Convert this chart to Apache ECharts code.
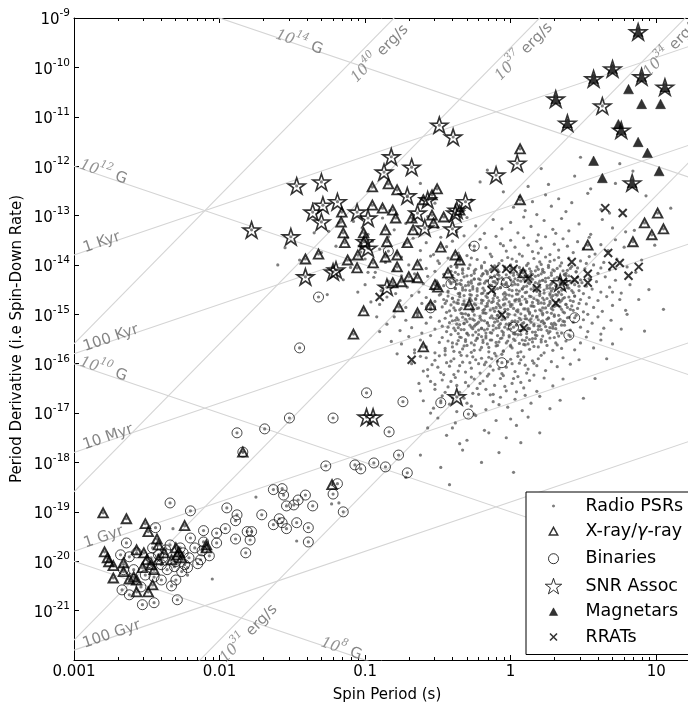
<!DOCTYPE html>
<html>
<head>
<meta charset="utf-8">
<title>P-Pdot diagram</title>
<script src="https://cdn.jsdelivr.net/npm/echarts@6.0.0/dist/echarts.min.js"></script>
<style>
html, body { margin: 0; padding: 0; background: #fff; }
#chart { width: 688px; height: 705px; }
</style>
</head>
<body>
<div id="chart"></div>
<script>
// tick labels
var xTickLabels = ['0.001', '0.01', '0.1', '1', '10'];
var minorMantissa = [2, 3, 4, 5, 6, 7, 8, 9];
var minorDecades = [0.001, 0.01, 0.1, 1, 10];

// all point lists below are [log10 P (s), log10 Pdot]
var radioCloud = [
  [-0.62,-12.35],[-0.21,-12.32],[-0.16,-12.08],[0.12,-12.41],[0.21,-12.05],[0.26,-12.37],[0.48,-11.82],[0.55,-12.46],[0.75,-11.95],[0.44,-12.2],
  [-0.83,-12.9],[-0.71,-12.62],[-0.52,-12.75],[-0.35,-12.95],[-0.27,-12.68],[-0.05,-12.52],[0.02,-12.83],[0.06,-12.62],[0.1,-12.9],[0.15,-12.72],[0.18,-12.98],[0.24,-12.58],[0.28,-12.81],[0.33,-12.66],[0.38,-12.92],[0.42,-12.74],[0.53,-12.55],[0.62,-12.88],
  [-1.25,-13.32],[-1.08,-13.12],[-0.98,-13.38],[-0.88,-13.05],[-0.8,-13.29],[-0.72,-13.16],[-0.64,-13.37],[-0.57,-13.02],[-0.5,-13.24],[-0.42,-13.11],[-0.37,-13.33],[-0.3,-13.04],[-0.24,-13.21],[-0.18,-13.36],[-0.12,-13.08],[-0.06,-13.27],[0.0,-13.14],[0.05,-13.35],[0.09,-13.03],[0.14,-13.22],[0.19,-13.39],[0.23,-13.1],[0.29,-13.28],[0.35,-13.06],[0.4,-13.31],[0.47,-13.17],[0.55,-13.38],[0.63,-13.08],[0.7,-13.25],[0.31,-13.36],
  [-1.2,-13.62],[-1.12,-13.45],[-1.03,-13.74],[-0.95,-13.52],[-0.9,-13.68],[-0.84,-13.43],[-0.78,-13.77],[-0.73,-13.58],[-0.67,-13.46],[-0.62,-13.71],[-0.58,-13.55],[-0.53,-13.79],[-0.48,-13.44],[-0.44,-13.63],[-0.4,-13.52],[-0.36,-13.76],[-0.32,-13.41],[-0.28,-13.6],[-0.25,-13.7],[-0.21,-13.48],[-0.17,-13.65],[-0.14,-13.78],[-0.1,-13.42],[-0.07,-13.57],[-0.03,-13.72],[0.0,-13.5],[0.03,-13.64],[0.06,-13.78],[0.09,-13.45],[0.12,-13.6],[0.15,-13.73],[0.18,-13.52],[0.21,-13.66],[0.24,-13.43],[0.27,-13.79],[0.3,-13.58],[0.33,-13.7],[0.36,-13.47],[0.39,-13.62],[0.43,-13.75],[0.46,-13.53],[0.5,-13.67],[0.54,-13.44],[0.58,-13.78],[0.62,-13.59],[0.67,-13.71],[0.72,-13.49],[0.78,-13.64],[-0.05,-13.61],[0.19,-13.76],
  [-1.1,-14.05],[-1.0,-13.88],[-0.93,-14.15],[-0.86,-13.95],[-0.8,-14.1],[-0.75,-13.84],[-0.7,-14.0],[-0.66,-14.18],[-0.62,-13.9],[-0.58,-14.07],[-0.55,-13.82],[-0.52,-14.13],[-0.49,-13.97],[-0.46,-14.19],[-0.43,-13.86],[-0.41,-14.03],[-0.38,-14.15],[-0.35,-13.92],[-0.33,-14.08],[-0.3,-13.81],[-0.28,-14.0],[-0.25,-14.17],[-0.23,-13.89],[-0.2,-14.06],[-0.18,-13.95],[-0.16,-14.14],[-0.13,-13.83],[-0.11,-14.02],[-0.09,-14.19],[-0.06,-13.91],[-0.04,-14.09],[-0.02,-13.85],[0.0,-14.0],[0.02,-14.16],[0.04,-13.93],[0.06,-14.05],[0.08,-13.82],[0.1,-14.12],[0.12,-13.97],[0.14,-14.18],[0.16,-13.87],[0.18,-14.04],[0.2,-13.94],[0.22,-14.13],[0.24,-13.84],[0.26,-14.01],[0.28,-14.16],[0.3,-13.9],[0.32,-14.07],[0.35,-13.96],[0.37,-14.19],[0.4,-13.86],[0.42,-14.03],[0.45,-14.14],[0.48,-13.92],[0.51,-14.08],[0.54,-13.83],[0.57,-14.0],[0.6,-14.17],[0.64,-13.95],[0.68,-14.1],[0.73,-13.88],[0.8,-14.04],[-0.27,-13.86],[-0.14,-14.1],[0.01,-13.88],[0.13,-14.08],[0.27,-13.93],[0.39,-14.11],[-0.37,-14.05],[-0.08,-13.97],[0.07,-14.15],[0.21,-13.99],[0.33,-13.85],[0.46,-14.06],[-0.5,-13.92],[-0.19,-14.18],[0.17,-14.12],[0.52,-13.97],[0.62,-14.06],
  [-1.0,-14.4],[-0.94,-14.25],[-0.89,-14.52],[-0.84,-14.33],[-0.79,-14.58],[-0.75,-14.22],[-0.71,-14.45],[-0.67,-14.3],[-0.63,-14.55],[-0.6,-14.38],[-0.57,-14.23],[-0.54,-14.49],[-0.51,-14.32],[-0.48,-14.59],
  [-0.46,-14.42],[-0.44,-14.27],[-0.43,-14.55],[-0.41,-14.36],[-0.4,-14.21],[-0.38,-14.48],[-0.37,-14.31],[-0.35,-14.57],[-0.34,-14.4],[-0.32,-14.24],[-0.31,-14.51],[-0.29,-14.35],[-0.28,-14.6],[-0.26,-14.44],[-0.25,-14.28],[-0.23,-14.53],[-0.22,-14.39],[-0.2,-14.22],[-0.19,-14.47],[-0.17,-14.33],[-0.16,-14.58],[-0.14,-14.41],[-0.13,-14.26],[-0.11,-14.5],[-0.1,-14.37],[-0.08,-14.21],[-0.07,-14.46],[-0.05,-14.3],[-0.04,-14.56],[-0.02,-14.43],[-0.01,-14.25],[0.01,-14.52],[0.02,-14.34],[0.04,-14.59],[0.05,-14.4],[0.07,-14.23],[0.08,-14.48],[0.1,-14.32],[0.11,-14.55],[0.13,-14.38],[0.14,-14.27],[0.16,-14.5],[0.17,-14.36],[0.19,-14.21],[0.2,-14.45],[0.22,-14.31],[0.23,-14.57],[0.25,-14.42],[0.26,-14.26],[0.28,-14.53],[0.29,-14.35],[0.31,-14.6],[0.32,-14.44],[0.34,-14.29],[0.35,-14.51],[0.37,-14.37],[0.38,-14.22],[0.4,-14.47],[0.41,-14.33],[0.43,-14.56],[0.44,-14.4],[0.46,-14.25],[0.47,-14.52],[0.49,-14.36],[0.5,-14.58],[0.52,-14.43],[0.54,-14.28],[0.56,-14.49],
  [0.59,-14.34],[0.62,-14.55],[0.65,-14.24],[0.68,-14.45],[0.72,-14.31],[0.76,-14.57],[0.82,-14.4],
  [-0.39,-14.34],[-0.21,-14.3],[-0.06,-14.39],[0.09,-14.44],[0.24,-14.34],[0.39,-14.41],[-0.33,-14.46],[-0.12,-14.54],[0.03,-14.28],[0.18,-14.53],[0.33,-14.55],[0.48,-14.3],[-0.27,-14.37],[0.12,-14.22],[-0.09,-14.29],[0.27,-14.47],
  [-0.9,-14.8],[-0.85,-14.65],[-0.8,-14.93],[-0.76,-14.72],[-0.72,-14.86],[-0.68,-14.62],[-0.64,-14.97],[-0.61,-14.78],[-0.58,-14.66],[-0.55,-14.9],[-0.52,-14.74],[-0.49,-14.61],
  [-0.47,-14.85],[-0.46,-14.7],[-0.44,-14.96],[-0.43,-14.63],[-0.41,-14.81],[-0.4,-14.68],[-0.38,-14.92],[-0.37,-14.77],[-0.35,-14.64],[-0.34,-14.88],[-0.32,-14.73],[-0.31,-14.99],[-0.29,-14.82],[-0.28,-14.67],[-0.26,-14.94],[-0.25,-14.79],[-0.23,-14.62],[-0.22,-14.87],[-0.2,-14.71],[-0.19,-14.97],[-0.17,-14.84],[-0.16,-14.66],[-0.14,-14.91],[-0.13,-14.76],[-0.11,-14.61],[-0.1,-14.86],[-0.08,-14.72],[-0.07,-14.98],[-0.05,-14.81],[-0.04,-14.65],[-0.02,-14.9],[-0.01,-14.75],[0.01,-14.63],[0.02,-14.88],[0.04,-14.7],[0.05,-14.95],[0.07,-14.8],[0.08,-14.64],[0.1,-14.89],[0.11,-14.74],[0.13,-14.99],[0.14,-14.83],[0.16,-14.68],[0.17,-14.93],[0.19,-14.78],[0.2,-14.62],[0.22,-14.87],[0.23,-14.71],[0.25,-14.96],[0.26,-14.82],[0.28,-14.66],[0.29,-14.91],[0.31,-14.76],[0.32,-14.61],[0.34,-14.85],[0.35,-14.72],[0.37,-14.97],[0.38,-14.8],[0.4,-14.65],[0.41,-14.9],[0.43,-14.74],[0.44,-14.63],[0.46,-14.88],[0.48,-14.7],[0.5,-14.95],[0.52,-14.79],[0.54,-14.66],
  [0.57,-14.86],[0.6,-14.72],[0.63,-14.94],[0.66,-14.64],[0.7,-14.82],[0.75,-14.7],[0.79,-14.92],
  [-0.39,-14.75],[-0.24,-14.7],[-0.09,-14.78],[0.06,-14.73],[0.21,-14.77],[0.36,-14.68],[-0.33,-14.8],[-0.18,-14.9],[-0.03,-14.69],[0.12,-14.93],[0.27,-14.74],[0.42,-14.83],[-0.45,-14.78],[0.0,-14.84],[0.15,-14.76],[0.3,-14.84],[-0.15,-14.73],[0.47,-14.78],
  [-0.85,-15.2],[-0.8,-15.05],[-0.76,-15.33],[-0.72,-15.12],[-0.68,-15.27],[-0.64,-15.02],[-0.61,-15.38],[-0.58,-15.18],[-0.55,-15.06],[-0.52,-15.3],[-0.49,-15.14],
  [-0.47,-15.24],[-0.45,-15.08],[-0.44,-15.35],[-0.42,-15.17],[-0.41,-15.03],[-0.39,-15.28],[-0.38,-15.12],[-0.36,-15.39],[-0.35,-15.21],[-0.33,-15.06],[-0.32,-15.31],[-0.3,-15.15],[-0.29,-15.01],[-0.27,-15.26],[-0.26,-15.1],[-0.24,-15.36],[-0.23,-15.19],[-0.21,-15.04],[-0.2,-15.29],[-0.18,-15.13],[-0.17,-15.38],[-0.15,-15.23],[-0.14,-15.07],[-0.12,-15.32],[-0.11,-15.16],[-0.09,-15.02],[-0.08,-15.27],[-0.06,-15.11],[-0.05,-15.37],[-0.03,-15.2],[-0.02,-15.05],[0.0,-15.3],[0.01,-15.14],[0.03,-15.39],[0.04,-15.22],[0.06,-15.08],[0.07,-15.33],[0.09,-15.17],[0.1,-15.03],[0.12,-15.28],[0.13,-15.12],[0.15,-15.36],[0.16,-15.2],[0.18,-15.06],[0.19,-15.31],[0.21,-15.15],[0.22,-15.01],[0.24,-15.25],[0.25,-15.1],[0.27,-15.35],[0.28,-15.19],[0.3,-15.04],[0.31,-15.29],[0.33,-15.13],[0.35,-15.38],[0.37,-15.22],[0.39,-15.07],[0.41,-15.32],[0.43,-15.16],[0.45,-15.02],[0.48,-15.26],[0.5,-15.11],
  [0.53,-15.35],[0.56,-15.18],[0.6,-15.05],[0.64,-15.28],[0.69,-15.12],
  [-0.37,-15.2],[-0.22,-15.16],[-0.07,-15.19],[0.08,-15.25],[0.23,-15.18],[-0.31,-15.1],[-0.16,-15.3],[-0.01,-15.22],[0.14,-15.09],[0.29,-15.23],[-0.43,-15.26],[-0.1,-15.09],[0.05,-15.15],[0.2,-15.24],[0.36,-15.14],[-0.25,-15.24],
  [-0.75,-15.6],[-0.7,-15.45],[-0.66,-15.72],[-0.62,-15.52],[-0.58,-15.66],[-0.55,-15.43],[-0.52,-15.78],[-0.49,-15.57],
  [-0.47,-15.47],[-0.45,-15.69],[-0.43,-15.54],[-0.41,-15.41],[-0.39,-15.75],[-0.37,-15.6],[-0.35,-15.46],[-0.33,-15.7],[-0.31,-15.55],[-0.29,-15.42],[-0.27,-15.77],[-0.25,-15.62],[-0.23,-15.48],[-0.21,-15.72],[-0.19,-15.57],[-0.17,-15.44],[-0.15,-15.67],[-0.13,-15.52],[-0.11,-15.79],[-0.09,-15.63],[-0.07,-15.49],[-0.05,-15.74],[-0.03,-15.58],[-0.01,-15.43],[0.01,-15.68],[0.03,-15.53],[0.05,-15.41],[0.07,-15.76],[0.09,-15.61],[0.11,-15.47],[0.13,-15.71],[0.15,-15.56],[0.17,-15.42],[0.19,-15.66],[0.21,-15.51],[0.23,-15.78],[0.25,-15.63],[0.27,-15.48],[0.29,-15.73],[0.31,-15.58],[0.33,-15.44],[0.35,-15.69],[0.38,-15.54],[0.41,-15.45],[0.44,-15.72],
  [0.48,-15.58],[0.52,-15.46],[0.57,-15.68],[0.62,-15.52],
  [-0.4,-15.58],[-0.24,-15.53],[-0.08,-15.56],[0.08,-15.52],[0.24,-15.55],[-0.32,-15.64],[-0.16,-15.6],[0.0,-15.63],[0.16,-15.65],[0.32,-15.62],[-0.2,-15.45],[0.12,-15.6],
  [-0.68,-16.0],[-0.62,-15.85],[-0.57,-16.12],[-0.52,-15.93],[-0.48,-16.18],[-0.45,-15.82],[-0.42,-16.05],[-0.39,-15.9],[-0.36,-16.15],[-0.33,-15.97],[-0.3,-15.84],[-0.27,-16.09],[-0.24,-15.92],[-0.21,-16.19],[-0.18,-16.02],[-0.15,-15.87],[-0.12,-16.13],[-0.09,-15.95],[-0.06,-15.81],[-0.03,-16.07],[0.0,-15.91],[0.03,-16.16],[0.06,-15.99],[0.09,-15.86],[0.12,-16.11],[0.15,-15.94],[0.18,-16.04],[0.21,-15.83],[0.24,-16.14],[0.28,-15.96],[0.32,-16.06],[0.36,-15.88],[0.41,-16.01],[0.47,-15.92],
  [-0.44,-15.98],[-0.35,-16.04],[-0.26,-15.86],[-0.17,-15.97],[-0.08,-16.1],[0.01,-16.0],[0.1,-16.03],[0.19,-15.9],[-0.5,-16.07],[-0.13,-15.9],[0.05,-15.85],[-0.22,-16.0],
  [-0.63,-16.4],[-0.57,-16.25],[-0.52,-16.52],[-0.47,-16.33],[-0.43,-16.47],[-0.39,-16.22],[-0.35,-16.58],[-0.31,-16.38],[-0.27,-16.27],[-0.23,-16.5],[-0.19,-16.35],[-0.15,-16.21],[-0.11,-16.44],[-0.07,-16.3],[-0.03,-16.55],[0.01,-16.4],[0.05,-16.26],[0.09,-16.49],[0.13,-16.34],[0.18,-16.56],[0.23,-16.29],[0.29,-16.45],[0.36,-16.31],[-0.41,-16.36],[-0.29,-16.45],[-0.17,-16.52],[-0.05,-16.24],[0.07,-16.38],[-0.55,-16.36],[0.16,-16.23],
  [-0.6,-16.75],[-0.53,-16.9],[-0.47,-16.65],[-0.42,-16.82],[-0.37,-16.97],[-0.32,-16.7],[-0.27,-16.86],[-0.22,-16.62],[-0.17,-16.93],[-0.12,-16.77],[-0.07,-16.68],[-0.02,-16.88],[0.03,-16.72],[0.08,-16.95],[0.14,-16.8],[0.2,-16.66],[0.27,-16.91],[0.34,-16.74],[-0.4,-16.69],[-0.14,-16.63],
  [-0.57,-17.3],[-0.5,-17.1],[-0.44,-17.45],[-0.38,-17.2],[-0.3,-17.55],[-0.24,-17.05],[-0.18,-17.35],[-0.1,-17.15],[-0.03,-17.5],[0.04,-17.25],[0.12,-17.08],[0.2,-17.4],[-0.35,-17.62],[0.07,-17.6],
  [-0.62,-17.85],[-0.48,-18.1],[-0.33,-17.75],[-0.2,-18.0],[-0.08,-17.8],[-0.72,-18.3],[0.02,-18.2],[-0.42,-18.45]
];

var radioCore = [
  [-0.37,-14.03],[-0.29,-14.07],[-0.2,-14.02],[-0.13,-14.08],[-0.04,-14.04],[0.03,-14.06],[0.11,-14.01],[0.19,-14.09],[0.26,-14.05],[0.34,-14.02],[0.41,-14.07],
  [-0.41,-14.13],[-0.33,-14.17],[-0.25,-14.12],[-0.16,-14.18],[-0.08,-14.14],[0.0,-14.16],[0.07,-14.11],[0.15,-14.19],[0.23,-14.15],[0.3,-14.12],[0.38,-14.17],[0.45,-14.14],
  [-0.39,-14.27],[-0.3,-14.22],[-0.22,-14.28],[-0.14,-14.24],[-0.06,-14.26],[0.02,-14.21],[0.09,-14.29],[0.17,-14.23],[0.24,-14.27],[0.32,-14.25],[0.4,-14.22],
  [-0.42,-14.33],[-0.35,-14.38],[-0.27,-14.32],[-0.18,-14.37],[-0.11,-14.34],[-0.03,-14.39],[0.05,-14.31],[0.12,-14.36],[0.2,-14.33],[0.28,-14.38],[0.35,-14.35],[0.43,-14.32],
  [-0.38,-14.47],[-0.31,-14.42],[-0.23,-14.48],[-0.15,-14.43],[-0.07,-14.46],[0.01,-14.41],[0.08,-14.49],[0.16,-14.44],[0.25,-14.47],[0.31,-14.42],[0.39,-14.46],[0.47,-14.43],
  [-0.43,-14.53],[-0.36,-14.58],[-0.28,-14.52],[-0.19,-14.57],[-0.12,-14.54],[-0.05,-14.59],[0.04,-14.51],[0.1,-14.56],[0.18,-14.53],[0.27,-14.58],[0.33,-14.55],[0.42,-14.52],
  [-0.4,-14.67],[-0.32,-14.62],[-0.24,-14.68],[-0.17,-14.63],[-0.09,-14.66],[-0.01,-14.61],[0.06,-14.69],[0.14,-14.64],[0.22,-14.67],[0.29,-14.62],[0.37,-14.66],[0.44,-14.63],
  [-0.44,-14.73],[-0.36,-14.78],[-0.27,-14.72],[-0.2,-14.77],[-0.12,-14.74],[-0.04,-14.79],[0.03,-14.71],[0.11,-14.76],[0.19,-14.73],[0.27,-14.78],[0.34,-14.75],[0.41,-14.72],
  [-0.39,-14.87],[-0.31,-14.82],[-0.23,-14.88],[-0.16,-14.83],[-0.07,-14.86],[0.01,-14.81],[0.09,-14.89],[0.16,-14.84],[0.24,-14.87],[0.32,-14.82],[0.39,-14.86],
  [-0.42,-14.93],[-0.34,-14.98],[-0.26,-14.92],[-0.18,-14.97],[-0.11,-14.94],[-0.02,-14.99],[0.05,-14.91],[0.13,-14.96],[0.21,-14.93],[0.28,-14.98],[0.36,-14.95],[0.43,-14.92],
  [-0.37,-15.07],[-0.29,-15.02],[-0.21,-15.08],[-0.13,-15.03],[-0.05,-15.06],[0.03,-15.01],[0.1,-15.09],[0.18,-15.04],[0.26,-15.07],[0.33,-15.02],[0.4,-15.06],
  [-0.4,-15.13],[-0.32,-15.18],[-0.25,-15.12],[-0.16,-15.17],[-0.09,-15.14],[-0.01,-15.19],[0.07,-15.11],[0.14,-15.16],[0.22,-15.13],[0.3,-15.18],[0.37,-15.15],
  [-0.36,-15.27],[-0.28,-15.22],[-0.2,-15.28],[-0.12,-15.23],[-0.04,-15.26],[0.04,-15.21],[0.12,-15.29],[0.19,-15.24],[0.27,-15.27],[0.35,-15.22],
  [-0.38,-15.33],[-0.3,-15.38],[-0.22,-15.32],[-0.14,-15.37],[-0.06,-15.34],[0.02,-15.39],[0.09,-15.31],[0.17,-15.36],[0.25,-15.33],[0.32,-15.38],
  [-0.34,-15.47],[-0.26,-15.42],[-0.17,-15.48],[-0.09,-15.43],[-0.01,-15.46],[0.07,-15.41],[0.15,-15.49],[0.22,-15.44],[0.3,-15.47],
  [-0.36,-15.53],[-0.27,-15.58],[-0.19,-15.52],[-0.1,-15.57],[-0.02,-15.54],[0.06,-15.59],[0.13,-15.51],[0.21,-15.56]
];

var radioDense = [
  [-0.33,-14.11],[-0.24,-14.09],[-0.17,-14.12],[-0.09,-14.1],[0.0,-14.08],[0.08,-14.11],[0.14,-14.13],[0.22,-14.09],[0.29,-14.1],[0.36,-14.12],
  [-0.36,-14.19],[-0.27,-14.21],[-0.19,-14.18],[-0.11,-14.22],[-0.03,-14.2],[0.05,-14.19],[0.12,-14.23],[0.21,-14.18],[0.28,-14.21],[0.37,-14.2],
  [-0.34,-14.31],[-0.25,-14.29],[-0.16,-14.32],[-0.08,-14.28],[0.0,-14.3],[0.07,-14.33],[0.15,-14.29],[0.22,-14.31],[0.3,-14.28],[0.38,-14.3],
  [-0.37,-14.39],[-0.29,-14.41],[-0.21,-14.38],[-0.13,-14.42],[-0.04,-14.4],[0.03,-14.39],[0.11,-14.43],[0.19,-14.38],[0.27,-14.41],[0.35,-14.4],
  [-0.33,-14.51],[-0.26,-14.49],[-0.18,-14.52],[-0.09,-14.48],[-0.01,-14.5],[0.06,-14.53],[0.14,-14.49],[0.23,-14.51],[0.29,-14.48],[0.37,-14.5],
  [-0.35,-14.59],[-0.27,-14.61],[-0.2,-14.58],[-0.11,-14.62],[-0.03,-14.6],[0.05,-14.59],[0.13,-14.63],[0.2,-14.58],[0.27,-14.61],[0.35,-14.6],
  [-0.36,-14.71],[-0.28,-14.69],[-0.19,-14.72],[-0.12,-14.68],[-0.05,-14.7],[0.03,-14.73],[0.1,-14.69],[0.18,-14.71],[0.25,-14.68],[0.33,-14.7],
  [-0.32,-14.79],[-0.24,-14.81],[-0.16,-14.78],[-0.08,-14.82],[0.0,-14.8],[0.07,-14.79],[0.15,-14.83],[0.23,-14.78],[0.31,-14.81],[0.38,-14.8],
  [-0.35,-14.91],[-0.27,-14.89],[-0.19,-14.92],[-0.12,-14.88],[-0.04,-14.9],[0.04,-14.93],[0.12,-14.89],[0.2,-14.91],[0.28,-14.88],[0.35,-14.9],
  [-0.33,-14.99],[-0.25,-15.01],[-0.17,-14.98],[-0.09,-15.02],[-0.01,-15.0],[0.07,-14.99],[0.15,-15.03],[0.22,-14.98],[0.3,-15.01],
  [-0.36,-15.11],[-0.28,-15.09],[-0.2,-15.12],[-0.12,-15.08],[-0.04,-15.1],[0.03,-15.13],[0.11,-15.09],[0.19,-15.11],[0.26,-15.08],[0.34,-15.1],
  [-0.32,-15.19],[-0.24,-15.21],[-0.16,-15.18],[-0.08,-15.22],[0.0,-15.2],[0.08,-15.19],[0.16,-15.23],[0.23,-15.18],[0.31,-15.21],
  [-0.34,-15.31],[-0.26,-15.29],[-0.18,-15.32],[-0.1,-15.28],[-0.02,-15.3],[0.06,-15.33],[0.13,-15.29],[0.21,-15.31],[0.29,-15.28],
  [-0.3,-15.39],[-0.22,-15.41],[-0.13,-15.38],[-0.05,-15.42],[0.03,-15.4],[0.11,-15.39],[0.18,-15.43],[0.26,-15.38],
  [-0.31,-15.51],[-0.23,-15.49],[-0.14,-15.52],[-0.06,-15.48],[0.02,-15.5],[0.1,-15.53],[0.17,-15.49],
  [-0.4,-15.66],[-0.3,-15.63],[-0.2,-15.67],[-0.1,-15.64],[0.0,-15.65],[0.1,-15.62],
  [-0.45,-15.74],[-0.35,-15.77],[-0.25,-15.73],[-0.15,-15.76],[-0.05,-15.75],[0.05,-15.78]
];

var radioLow = [
  [-0.58,-15.88],[-0.54,-16.02],[-0.49,-15.84],[-0.46,-16.22],[-0.41,-15.95],[-0.38,-16.28],[-0.34,-15.83],[-0.31,-16.17],[-0.28,-15.98],[-0.25,-16.31],[-0.2,-15.89],[-0.16,-16.25],[-0.14,-16.05],[-0.1,-15.84],[-0.06,-16.2],[-0.02,-15.96],[0.02,-16.3],[0.07,-15.92],[0.11,-16.19],[0.16,-15.99],
  [-0.52,-16.42],[-0.45,-16.58],[-0.37,-16.44],[-0.26,-16.6],[-0.21,-16.4],[-0.12,-16.62],[-0.04,-16.46],[0.04,-16.57],[-0.6,-16.15],[-0.66,-15.78],[-0.62,-16.55],[-0.48,-16.75],[-0.3,-16.8],[-0.08,-16.83],[0.1,-16.64],[-0.55,-17.0],[-0.25,-17.02],[0.0,-17.12],[-0.4,-17.3],[-0.15,-17.4]
];

var radioYoung = [
  [-1.55,-13.65],[-1.45,-13.9],[-1.38,-14.2],[-1.3,-13.75],[-1.22,-14.05],[-1.15,-14.3],[-1.1,-13.9],[-1.05,-14.55],[-0.98,-14.15],[-0.96,-14.75],[-0.92,-15.05],[-0.88,-14.45],[-1.18,-13.15],[-1.35,-13.35],[-1.02,-13.25],[-1.6,-14.0],[-1.26,-14.6],[-0.9,-15.35],[-0.82,-15.55],[-0.78,-15.8]
];

var radioSlow = [
  [0.85,-13.3],[0.9,-13.9],[0.95,-14.5],[0.88,-14.7],[0.99,-13.6],[0.8,-15.0],[0.76,-15.3],[0.7,-15.6],[0.93,-12.6],[0.72,-12.35],[0.68,-12.95],[1.1,-12.85],[0.66,-15.9],[0.58,-16.3],[0.5,-16.7],[1.05,-14.9],[0.84,-12.1],[0.86,-14.15],
  [0.62,-15.4],[0.92,-15.34],[0.7,-14.55],[0.53,-15.0],[0.79,-13.33]
];

var radioMsp = [
  [-1.75,-18.7],[-2.32,-19.34],[-2.05,-20.36],[-1.47,-19.59],[-1.23,-18.84],[-1.18,-18.82],[-2.22,-20.28]
];

var binaries = [
  [-2.34,-18.82],[-2.2,-18.98],[-1.95,-18.92],[-1.88,-19.06],[-1.89,-19.18],[-1.71,-19.06],[-1.63,-18.55],[-2.11,-19.38],[-2.02,-19.43],[-1.96,-19.34],[-1.81,-19.4],[-1.78,-19.4],[-1.89,-19.55],[-1.79,-19.57],[-1.82,-19.83],[-2.02,-19.63],[-2.11,-19.61],[-2.12,-19.79],[-2.15,-20.05],[-2.22,-20.13],[-2.33,-20.5],[-2.29,-20.78],[-2.45,-20.84],[-2.53,-20.88],[-2.62,-20.68],[-2.67,-20.58],[-2.44,-19.32],[-2.64,-19.63],[-2.68,-19.87],[-2.66,-20.17],[-2.59,-20.17],[-2.54,-20.52],[-2.4,-20.38],[-2.37,-19.77],[-2.26,-20.21],[-2.21,-19.93],[-2.2,-19.53],[-2.31,-20.11],[-2.47,-19.93],[-2.57,-19.83],[-2.51,-20.28],[-2.45,-20.32],[-2.4,-20.07],[-2.36,-20.17],[-2.46,-19.73],[-2.3,-20.38],[-2.62,-19.91],
  [-2.42,-19.87],[-2.34,-19.67],[-2.25,-19.83],[-2.17,-19.73],[-2.39,-19.93],[-2.3,-20.01],[-2.24,-20.07],[-2.49,-20.03],[-2.13,-19.97],[-2.07,-19.89],[-2.27,-19.73],
  [-1.57,-18.53],[-1.56,-18.66],[-1.41,-18.66],[-1.46,-18.76],[-1.49,-18.86],[-1.54,-18.88],[-1.36,-18.88],[-1.59,-19.14],[-1.63,-19.26],[-1.57,-19.22],[-1.47,-19.22],[-1.54,-19.34],[-1.39,-19.32],[-1.39,-19.61],[-1.15,-19.0],[-1.22,-18.64],[-1.19,-18.43],
  [-1.27,-18.07],[-1.07,-18.05],[-1.03,-18.13],[-0.94,-18.01],[-0.86,-18.09],[-0.77,-17.85],[-0.71,-18.21],[-0.835,-17.38],
  [-1.88,-17.4],[-1.69,-17.32],[-1.52,-17.1],[-1.22,-17.1],[-1.84,-17.79],[-0.99,-16.59],[-0.74,-16.77],[-0.48,-16.79],[-0.29,-17.02],[-0.06,-15.98],[0.02,-15.26],[0.4,-15.42],[0.44,-15.07],[-1.32,-14.65],[-1.45,-15.68],[-0.55,-14.87],[-0.41,-14.38],[-0.25,-13.62],[-0.84,-13.72],[-0.12,-14.34],[-0.03,-14.36]
];

var xrayYoung = [
  [-0.95,-12.42],[-0.84,-12.36],[-0.78,-12.48],[-0.505,-12.46],[-0.54,-12.58],[-0.6,-12.68],[-1.16,-12.93],[-1.165,-13.13],[-0.95,-12.79],[-0.88,-12.85],[-0.81,-12.89],[-0.79,-13.05],[-0.68,-13.05],[-0.54,-12.99],[-0.46,-13.03],[-0.67,-13.29],[-0.86,-13.29],[-1.01,-13.35],[-1.01,-13.53],[-1.15,-13.35],[-1.14,-13.55],[-0.85,-13.53],[-0.71,-13.55],[-0.48,-13.64],[-0.78,-13.8],[-0.86,-13.84],[-0.945,-13.96],[-1.055,-14.06],[-1.12,-13.9],[-1.05,-13.8],[-1.32,-13.78],[-1.41,-13.88],[-0.78,-14.04],[-0.64,-14.0],[-0.38,-13.8],[-0.35,-13.9],[-0.7,-14.24],[-0.64,-14.26],[-0.75,-14.34],[-0.81,-14.36],[-0.43,-14.16],[-0.52,-14.4],[-0.5,-14.45],[-0.55,-14.81],[-0.285,-14.81],[-0.64,-14.97],[-0.77,-14.85],[-1.01,-14.93],[-1.08,-15.4],[-0.6,-15.66],
  [0.065,-11.65],[0.065,-12.68],[0.53,-13.6],[1.01,-12.95],[0.92,-13.15],[0.97,-13.39],[1.05,-13.27],[0.84,-13.53],[0.086,-14.16],[-0.53,-13.15],[-0.35,-12.89]
];

var xrayMsp = [
  [-2.8,-19.02],[-2.64,-19.14],[-2.51,-19.24],[-2.49,-19.4],[-2.24,-19.28],[-2.43,-19.55],[-2.42,-19.67],[-2.79,-19.81],[-2.77,-19.93],[-2.76,-20.01],[-2.73,-20.09],[-2.66,-20.03],[-2.66,-20.21],[-2.73,-20.34],[-2.57,-19.77],[-2.52,-19.83],[-2.5,-19.97],[-2.47,-20.07],[-2.45,-20.17],[-2.59,-20.32],[-2.57,-20.38],[-2.62,-20.36],[-2.46,-20.48],[-2.57,-20.62],[-2.49,-20.62],[-2.53,-20.13],[-2.3,-19.73],[-2.28,-19.81],[-2.29,-19.87],[-2.09,-19.67],[-2.09,-19.73],[-2.38,-19.83],[-2.42,-19.97],[-2.33,-19.97],[-2.26,-19.93],[-1.227,-18.45],[-1.84,-17.79]
];

var snrAssoc = [
  [-0.49,-11.17],[-0.395,-11.41],[-0.82,-11.81],[-0.87,-12.12],[-0.68,-12.02],[-0.1,-12.18],[-1.47,-12.4],[-1.3,-12.32],[-0.71,-12.6],[-1.51,-13.43],[-1.78,-13.29],[0.045,-11.94],[-0.31,-12.72],[-0.37,-12.89],[-1.36,-12.93],[-1.29,-12.79],[-1.19,-12.72],[-1.3,-13.13],[-0.98,-13.05],[-1.055,-12.93],[-0.57,-12.68],[-0.64,-12.95],[-0.59,-13.25],[-0.4,-13.27],[-0.38,-12.95],[-1.41,-14.24],[-1.2,-14.1],[-1.22,-14.14],[-1.0,-13.53],[-0.98,-13.66],[-0.85,-14.45],[-0.37,-16.67],[-0.99,-17.08],[-0.945,-17.08],[0.34,-14.36],[0.63,-10.78]
];

var snrMagnetar = [
  [0.876,-9.28],[0.7,-10.03],[0.57,-10.23],[0.9,-10.19],[1.06,-10.4],[0.31,-10.64],[0.39,-11.13],[0.76,-11.27],[0.835,-12.34]
];

var magnetars = [
  [0.876,-9.28],[0.7,-10.03],[0.57,-10.23],[0.9,-10.19],[1.06,-10.4],[0.31,-10.64],[0.81,-10.44],[0.9,-10.74],[1.03,-10.74],[0.39,-11.13],[0.74,-11.15],[0.76,-11.27],[0.876,-11.51],[0.94,-11.73],[0.57,-11.89],[1.02,-12.1],[0.63,-12.24],[0.835,-12.34]
];

var rrats = [
  [-0.11,-14.08],[-0.03,-14.08],[0.02,-14.08],[-0.13,-14.51],[0.12,-14.28],[0.18,-14.47],[-0.06,-15.01],[0.09,-15.28],[0.31,-14.77],[0.36,-14.34],[0.42,-13.94],[0.44,-14.3],[0.65,-12.85],[0.77,-12.95],[0.67,-13.76],[0.7,-14.02],[0.75,-13.96],[0.88,-14.04],[0.81,-14.22],[0.53,-14.18],[0.53,-14.36],[-0.9,-14.65],[-0.68,-15.92]
];

// reference lines, end points as [P, Pdot]
var fieldLines = [
  [[0.001, 1e-8], [20, 5e-13]],
  [[0.001, 1e-12], [20, 5e-17]],
  [[0.001, 1e-16], [20, 5e-21]],
  [[0.001, 1e-20], [20, 5e-25]]
];
var ageLines = [
  [[0.001, 1.585e-14], [20, 3.17e-10]],
  [[0.001, 1.585e-16], [20, 3.17e-12]],
  [[0.001, 1.585e-18], [20, 3.17e-14]],
  [[0.001, 1.585e-20], [20, 3.17e-16]],
  [[0.001, 1.585e-22], [20, 3.17e-18]]
];
var edotLines = [
  [[0.001, 2.53e-16], [0.2, 2.02e-9]],
  [[0.001, 2.53e-19], [2, 2.02e-9]],
  [[0.001, 2.53e-22], [20, 2.02e-9]],
  [[0.001, 2.53e-25], [20, 2.02e-12]]
];

// line annotations: text, anchor [P, Pdot], angle
var lineNotes = [
  { pow: '14', unit: ' G', at: [0.0357, 3.59e-10], ang: -18.75 },
  { pow: '12', unit: ' G', at: [0.00161, 8.4e-13], ang: -18.75 },
  { pow: '10', unit: ' G', at: [0.00161, 8.6e-17], ang: -18.75 },
  { pow: '8', unit: ' G', at: [0.0695, 1.86e-22], ang: -18.75 },
  { text: '1 Kyr', at: [0.00153, 3.2e-14], ang: 18.75 },
  { text: '100 Kyr', at: [0.00177, 3.66e-16], ang: 18.75 },
  { text: '10 Myr', at: [0.00169, 3.63e-18], ang: 18.75 },
  { text: '1 Gyr', at: [0.00158, 3.42e-20], ang: 18.75 },
  { text: '100 Gyr', at: [0.00179, 3.7e-22], ang: 18.75 },
  { pow: '40', unit: ' erg/s', at: [0.1227, 2.05e-10], ang: 45.5 },
  { pow: '37', unit: ' erg/s', at: [1.2, 2.25e-10], ang: 45.5 },
  { pow: '34', unit: ' erg/s', at: [12.5, 2.71e-10], ang: 45.5 },
  { pow: '31', unit: ' erg/s', at: [0.01545, 3.7e-22], ang: 45.5 }
];

var FONT = 'DejaVu Sans';
var starPath = 'path://M10,0L12.245,6.91L19.511,6.91L13.633,11.18L15.878,18.09L10,13.82L4.122,18.09L6.367,11.18L0.489,6.91L7.755,6.91Z';
var crossPath = 'path://M0,0L10,10M10,0L0,10';
var icons = {
  dot: 'path://M0,0M18,18M9,7.4L10.1,7.9L10.6,9L10.1,10.1L9,10.6L7.9,10.1L7.4,9L7.9,7.9Z',
  tri: 'path://M0,0M18,18M9,5.2L13.2,12.8L4.8,12.8Z',
  circ: 'path://M0,0M18,18M9,4A5,5 0 1 1 9,14A5,5 0 1 1 9,4Z',
  star: 'path://M0,0M18,18M9,1L10.94,6.93L17.18,6.94L12.14,10.62L14.06,16.56L9,12.9L3.94,16.56L5.86,10.62L0.82,6.94L7.06,6.93Z',
  cross: 'path://M0,0M18,18M5.5,5.5L12.5,12.5M12.5,5.5L5.5,12.5'
};

function toData(arr) {
  return arr.map(function (d) { return [Math.pow(10, d[0]), Math.pow(10, d[1])]; });
}

var minorTicks = [];
minorDecades.forEach(function (d) {
  minorMantissa.forEach(function (m) {
    var v = +(m * d).toPrecision(3);
    if (v < 20) minorTicks.push(v);
  });
});

var radioAll = [].concat(radioCloud, radioCore, radioDense, radioLow, radioYoung, radioSlow, radioMsp,
  binaries, xrayYoung, xrayMsp, snrAssoc);

var myChart = echarts.init(document.getElementById('chart'));

var series = [];
fieldLines.concat(ageLines, edotLines).forEach(function (seg) {
  series.push({
    type: 'line', data: seg, symbol: 'none', silent: true, z: 1,
    lineStyle: { color: '#d4d4d4', width: 1.1 }
  });
});

series.push({
  name: 'Radio PSRs', type: 'scatter', data: toData(radioAll),
  symbol: 'circle', symbolSize: 3.2, silent: true, z: 2,
  itemStyle: { color: '#5e5e5e' }
});
series.push({
  name: 'X-ray/γ-ray', type: 'scatter', data: toData(xrayYoung.concat(xrayMsp)),
  symbol: 'triangle', symbolSize: [9.5, 9], silent: true, z: 3,
  itemStyle: { color: 'none', borderColor: '#000', borderWidth: 1.9 }
});
series.push({
  name: 'Binaries', type: 'scatter', data: toData(binaries),
  symbol: 'circle', symbolSize: 10, silent: true, z: 3,
  itemStyle: { color: 'none', borderColor: '#000', borderWidth: 0.9 }
});
series.push({
  name: 'SNR Assoc', type: 'scatter', data: toData(snrAssoc.concat(snrMagnetar)),
  symbol: starPath, symbolSize: 17, symbolKeepAspect: true, silent: true, z: 4,
  itemStyle: { color: 'none', borderColor: '#000', borderWidth: 1.6 }
});
series.push({
  name: 'Magnetars', type: 'scatter', data: toData(magnetars),
  symbol: 'triangle', symbolSize: [10, 9.5], silent: true, z: 5,
  itemStyle: { color: '#000', borderColor: '#000', borderWidth: 0.5 }
});
series.push({
  name: 'RRATs', type: 'scatter', data: toData(rrats),
  symbol: crossPath, symbolSize: 8, silent: true, z: 5,
  itemStyle: { color: 'none', borderColor: '#000', borderWidth: 2 }
});

series.push({
  type: 'scatter', symbolSize: 0, silent: true, z: 6,
  data: lineNotes.map(function (n) {
    var txt = n.text ? '{t|' + n.text + '}' : '{m|10}{ms|' + n.pow + '}{t|' + n.unit + '}';
    return {
      value: n.at,
      label: { show: true, position: 'inside', rotate: n.ang, formatter: txt }
    };
  }),
  label: {
    color: '#666',
    rich: {
      t: { fontFamily: FONT, fontSize: 15, color: '#666', lineHeight: 20, verticalAlign: 'bottom' },
      m: { fontFamily: 'DejaVu Serif', fontStyle: 'italic', fontSize: 15, color: '#777', lineHeight: 20, verticalAlign: 'bottom' },
      ms: { fontFamily: 'DejaVu Serif', fontStyle: 'italic', fontSize: 10.5, color: '#777', lineHeight: 9, verticalAlign: 'top' }
    }
  }
});

var baseX = {
  type: 'log', logBase: 10, min: 0.001, max: 20, interval: 1,
  splitLine: { show: false }
};

var option = {
  animation: false,
  backgroundColor: '#fff',
  grid: { left: 74, top: 18, width: 626, height: 642, outerBoundsMode: 'none' },
  xAxis: [
    Object.assign({}, baseX, {
      position: 'bottom',
      name: 'Spin Period (s)', nameLocation: 'middle', nameGap: 28, nameMoveOverlap: false,
      nameTextStyle: { fontFamily: FONT, fontSize: 15, color: '#000' },
      axisLine: { show: true, lineStyle: { color: '#000', width: 1 } },
      axisTick: { show: true, inside: true, length: 5, lineStyle: { color: '#000' } },
      axisLabel: {
        fontFamily: FONT, fontSize: 15, color: '#000', margin: 5, showMaxLabel: false,
        formatter: function (v) { return xTickLabels[Math.round(Math.log10(v)) + 3]; }
      }
    }),
    Object.assign({}, baseX, {
      position: 'top',
      axisLine: { show: true, onZero: false, lineStyle: { color: '#000', width: 1 } },
      axisTick: { show: true, inside: true, length: 5, lineStyle: { color: '#000' } },
      axisLabel: { show: false }
    }),
    Object.assign({}, baseX, {
      position: 'bottom',
      axisLine: { show: false },
      axisTick: { show: true, inside: true, length: 3, customValues: minorTicks, lineStyle: { color: '#000' } },
      axisLabel: { show: false }
    }),
    Object.assign({}, baseX, {
      position: 'top',
      axisLine: { show: false },
      axisTick: { show: true, inside: true, length: 3, customValues: minorTicks, lineStyle: { color: '#000' } },
      axisLabel: { show: false }
    })
  ],
  yAxis: {
    type: 'log', logBase: 10, min: 1e-22, max: 1e-9, interval: 1,
    name: 'Period Derivative (i.e Spin-Down Rate)', nameLocation: 'middle', nameGap: 49, nameMoveOverlap: false,
    nameTextStyle: { fontFamily: FONT, fontSize: 15, color: '#000' },
    splitLine: { show: false },
    axisLine: { show: true, lineStyle: { color: '#000', width: 1 } },
    axisTick: { show: true, inside: true, length: 5, lineStyle: { color: '#000' } },
    axisLabel: {
      margin: 4, color: '#000',
      formatter: function (v) { return '{b|10}{s|' + Math.round(Math.log10(v)) + '}'; },
      rich: {
        b: { fontFamily: FONT, fontSize: 15, color: '#000', lineHeight: 20, verticalAlign: 'bottom' },
        s: { fontFamily: FONT, fontSize: 10.5, color: '#000', lineHeight: 9, verticalAlign: 'top' }
      }
    }
  },
  legend: {
    orient: 'vertical', left: 526, top: 492,
    padding: [5, 40, 6, 16], itemWidth: 18, itemHeight: 18, itemGap: 4.6,
    backgroundColor: '#fff', borderColor: '#000', borderWidth: 1, borderRadius: 0,
    selectedMode: false,
    textStyle: {
      fontFamily: FONT, fontSize: 17.5, color: '#000', lineHeight: 18, padding: [0, 0, 0, 18],
      rich: { g: { fontFamily: FONT, fontStyle: 'italic', fontSize: 17.5, color: '#000' } }
    },
    formatter: function (name) { return name.replace('γ', '{g|γ}'); },
    data: [
      { name: 'Radio PSRs', icon: icons.dot, itemStyle: { color: '#5e5e5e', borderWidth: 0 } },
      { name: 'X-ray/γ-ray', icon: icons.tri, itemStyle: { color: 'none', borderColor: '#000', borderWidth: 1.5 } },
      { name: 'Binaries', icon: icons.circ, itemStyle: { color: 'none', borderColor: '#000', borderWidth: 1 } },
      { name: 'SNR Assoc', icon: icons.star, itemStyle: { color: 'none', borderColor: '#000', borderWidth: 1 } },
      { name: 'Magnetars', icon: icons.tri, itemStyle: { color: '#000', borderColor: '#000', borderWidth: 0.5 } },
      { name: 'RRATs', icon: icons.cross, itemStyle: { color: 'none', borderColor: '#000', borderWidth: 1.6 } }
    ]
  },
  series: series
};

myChart.setOption(option);
window.addEventListener('resize', function () {
  myChart.resize();
});
</script>
</body>
</html>
